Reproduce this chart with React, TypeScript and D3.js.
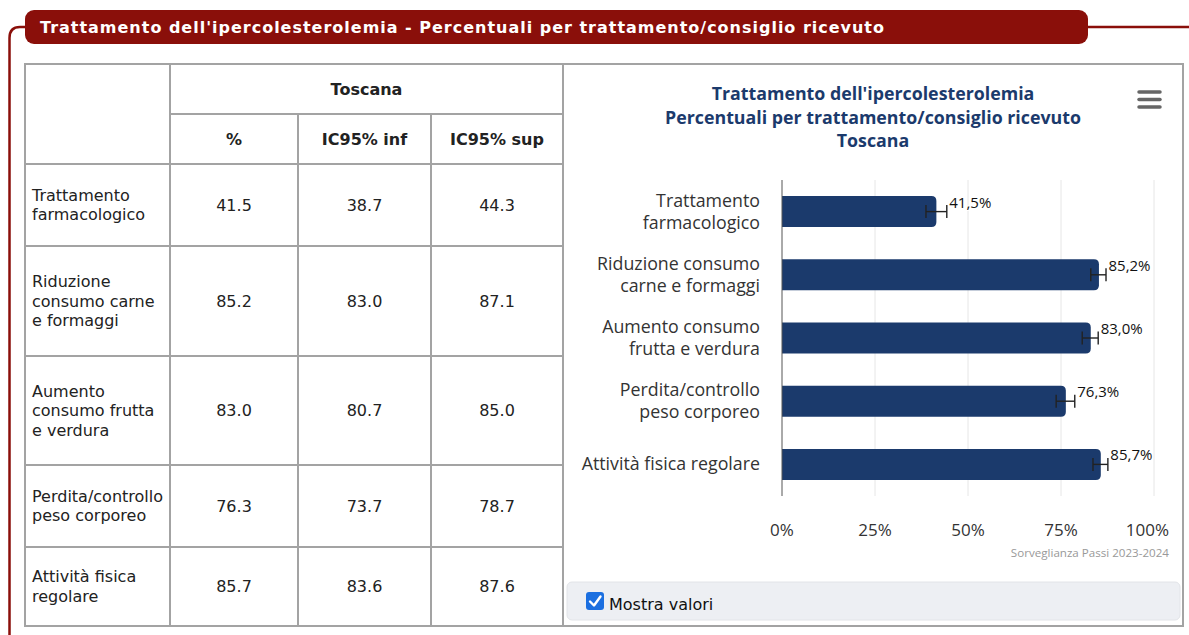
import React from "react";
import * as d3 from "d3";

// ---- data ----
const categories = [
  "Trattamento farmacologico",
  "Riduzione consumo carne e formaggi",
  "Aumento consumo frutta e verdura",
  "Perdita/controllo peso corporeo",
  "Attività fisica regolare",
];
const chartLabelLines = [
  ["Trattamento", "farmacologico"],
  ["Riduzione consumo", "carne e formaggi"],
  ["Aumento consumo", "frutta e verdura"],
  ["Perdita/controllo", "peso corporeo"],
  ["Attività fisica regolare"],
];
const tableLabelLines = [
  ["Trattamento", "farmacologico"],
  ["Riduzione", "consumo carne", "e formaggi"],
  ["Aumento", "consumo frutta", "e verdura"],
  ["Perdita/controllo", "peso corporeo"],
  ["Attività fisica", "regolare"],
];
const values = [41.5, 85.2, 83.0, 76.3, 85.7];
const ciLow = [38.7, 83.0, 80.7, 73.7, 83.6];
const ciHigh = [44.3, 87.1, 85.0, 78.7, 87.6];
const xTicks = [0, 25, 50, 75, 100];
const tableHeaders = ["%", "IC95% inf", "IC95% sup"];
const regionName = "Toscana";
const pageTitle =
  "Trattamento dell'ipercolesterolemia - Percentuali per trattamento/consiglio ricevuto";
const chartTitleLines = [
  "Trattamento dell'ipercolesterolemia",
  "Percentuali per trattamento/consiglio ricevuto",
  "Toscana",
];
const credits = "Sorveglianza Passi 2023-2024";

// ---- layout ----
const W = 1189;
const H = 635;
const RED = "#8a0f0a";
const NAVY = "#1b3a6c";
const BORDER = "#a3a3a3";
const colX = [25, 170, 298, 431, 563];
const headTop = 64;
const headMid = 114;
const rowHeights = [100, 82, 110, 109, 82, 79];
const tableFont = "'DejaVu Sans', Verdana, sans-serif";
const chartFont = "'Open Sans', 'Noto Sans', sans-serif";

const fmt = (v: number) => v.toFixed(1);
const fmtIt = (v: number) => v.toFixed(1).replace(".", ",") + "%";

export default function App() {
  const rowTops: number[] = [];
  let acc = headTop;
  rowHeights.forEach((h) => {
    rowTops.push(acc);
    acc += h;
  });
  const tableBottom = acc;
  const dataRowTops = rowTops.slice(1);

  const x = d3.scaleLinear().domain([0, 100]).range([782, 1154]);
  const y = d3.scaleBand<string>().domain(categories).range([180, 496]);
  const barH = y.bandwidth() * 0.49;
  const cy = (c: string) => (y(c) as number) + y.bandwidth() / 2;

  const barPath = (c: string, v: number) => {
    const x0 = x(0);
    const x1 = x(v);
    const t = cy(c) - barH / 2;
    const b = cy(c) + barH / 2;
    const r = 5;
    return `M${x0},${t}H${x1 - r}Q${x1},${t} ${x1},${t + r}V${b - r}Q${x1},${b} ${x1 - r},${b}H${x0}Z`;
  };

  const panelCx = (colX[4] + 1183) / 2;

  return (
    <div style={{ position: "absolute", left: 0, top: 0 }}>
      <svg width={W} height={H} style={{ display: "block" }}>
        <rect width={W} height={H} fill="#fff" />
        {/* header band */}
        <path
          d={`M25,27H20Q9.5,27 9.5,38V${H}`}
          fill="none"
          stroke={RED}
          strokeWidth={2.5}
        />
        <path d={`M1088,27H${W}`} stroke={RED} strokeWidth={2.5} />
        <rect x={25} y={10} width={1063} height={34} rx={9} fill={RED} />
        <text
          x={40}
          y={33}
          fill="#fff"
          fontFamily={tableFont}
          fontWeight="bold"
          fontSize={16}
          textLength={844}
          lengthAdjust="spacing"
        >
          {pageTitle}
        </text>

        {/* table */}
        <g fontFamily={tableFont} fontSize={16} fill="#222">
          <rect
            x={colX[0]}
            y={headTop}
            width={1183 - colX[0]}
            height={tableBottom - headTop}
            fill="none"
            stroke={BORDER}
            strokeWidth={2}
          />
          <line x1={colX[1]} x2={colX[4]} y1={headMid} y2={headMid} stroke={BORDER} strokeWidth={2} />
          {dataRowTops.map((t, i) => (
            <line key={i} x1={colX[0]} x2={colX[4]} y1={t} y2={t} stroke={BORDER} strokeWidth={2} />
          ))}
          <line x1={colX[1]} x2={colX[1]} y1={headTop} y2={tableBottom} stroke={BORDER} strokeWidth={2} />
          {[2, 3].map((k) => (
            <line key={k} x1={colX[k]} x2={colX[k]} y1={headMid} y2={tableBottom} stroke={BORDER} strokeWidth={2} />
          ))}
          <line x1={colX[4]} x2={colX[4]} y1={headTop} y2={tableBottom} stroke={BORDER} strokeWidth={2} />

          <text
            x={(colX[1] + colX[4]) / 2}
            y={(headTop + headMid) / 2 + 5.5}
            textAnchor="middle"
            fontWeight="bold"
          >
            {regionName}
          </text>
          {tableHeaders.map((h, k) => (
            <text
              key={h}
              x={(colX[k + 1] + colX[k + 2]) / 2}
              y={(headMid + rowTops[1]) / 2 + 5.5}
              textAnchor="middle"
              fontWeight="bold"
            >
              {h}
            </text>
          ))}
          {categories.map((c, i) => {
            const top = dataRowTops[i];
            const mid = top + rowHeights[i + 1] / 2;
            const lines = tableLabelLines[i];
            const lh = 19.5;
            const firstBase = mid - ((lines.length - 1) * lh) / 2 + 5.5;
            const cells = [values[i], ciLow[i], ciHigh[i]];
            return (
              <g key={c}>
                <text x={32} y={firstBase}>
                  {lines.map((l, j) => (
                    <tspan key={j} x={32} y={firstBase + j * lh}>
                      {l}
                    </tspan>
                  ))}
                </text>
                {cells.map((v, k) => (
                  <text
                    key={k}
                    x={(colX[k + 1] + colX[k + 2]) / 2}
                    y={mid + 5.5}
                    textAnchor="middle"
                  >
                    {fmt(v)}
                  </text>
                ))}
              </g>
            );
          })}
        </g>

        {/* chart panel */}
        <g fontFamily={chartFont}>
          {chartTitleLines.map((t, i) => (
            <text
              key={i}
              x={panelCx}
              y={100 + i * 23.5}
              textAnchor="middle"
              fill={NAVY}
              fontWeight="bold"
              fontSize={17.8}
            >
              {t}
            </text>
          ))}
          {[0, 1, 2].map((k) => (
            <line
              key={k}
              x1={1139}
              x2={1160}
              y1={92 + k * 7.5}
              y2={92 + k * 7.5}
              stroke="#666"
              strokeWidth={3.5}
              strokeLinecap="round"
            />
          ))}

          {xTicks.slice(1).map((t) => (
            <line
              key={t}
              x1={x(t)}
              x2={x(t)}
              y1={180}
              y2={496}
              stroke="#e6e6e6"
              strokeWidth={1}
            />
          ))}

          {categories.map((c, i) => (
            <path key={c} d={barPath(c, values[i])} fill={NAVY} />
          ))}
          <line x1={x(0)} x2={x(0)} y1={180} y2={496} stroke="#555" strokeWidth={1} />

          {categories.map((c, i) => {
            const yy = cy(c);
            return (
              <g key={c} stroke="#222" strokeWidth={1.4}>
                <line x1={x(ciLow[i])} x2={x(ciHigh[i])} y1={yy} y2={yy} />
                <line x1={x(ciLow[i])} x2={x(ciLow[i])} y1={yy - 6.5} y2={yy + 6.5} />
                <line x1={x(ciHigh[i])} x2={x(ciHigh[i])} y1={yy - 6.5} y2={yy + 6.5} />
              </g>
            );
          })}

          {categories.map((c, i) => (
            <text
              key={c}
              x={x(ciHigh[i]) + 2.5}
              y={cy(c) - 4}
              fontSize={15}
              fill="#111"
              stroke="#fff"
              strokeWidth={2}
              paintOrder="stroke"
              strokeLinejoin="round"
            >
              {fmtIt(values[i])}
            </text>
          ))}

          {categories.map((c, i) => {
            const lines = chartLabelLines[i];
            const lh = 22;
            const firstBase = cy(c) - ((lines.length - 1) * lh) / 2 + 6;
            return (
              <text key={c} textAnchor="end" fontSize={17.8} fill="#333">
                {lines.map((l, j) => (
                  <tspan key={j} x={760} y={firstBase + j * lh}>
                    {l}
                  </tspan>
                ))}
              </text>
            );
          })}

          {xTicks.map((t, i) => {
            const last = i === xTicks.length - 1;
            return (
              <text
                key={t}
                x={last ? 1169 : x(t)}
                y={536}
                textAnchor={last ? "end" : "middle"}
                fontSize={17}
                fill="#333"
              >
                {t}%
              </text>
            );
          })}

          <text x={1169} y={557} textAnchor="end" fontSize={11.6} fill="#999">
            {credits}
          </text>
        </g>

        <rect x={567} y={582} width={613} height={38} rx={5} fill="#edeff3" stroke="#e2e4e8" />
        <rect x={586} y={592} width={18} height={18} rx={3} fill="#1b6fe0" />
        <path
          d="M590,601.5L594,605.5L600.5,596.5"
          fill="none"
          stroke="#fff"
          strokeWidth={2.4}
          strokeLinecap="round"
          strokeLinejoin="round"
        />
        <text x={609} y={610} fontFamily={tableFont} fontSize={16} fill="#111">
          Mostra valori
        </text>
      </svg>
    </div>
  );
}
